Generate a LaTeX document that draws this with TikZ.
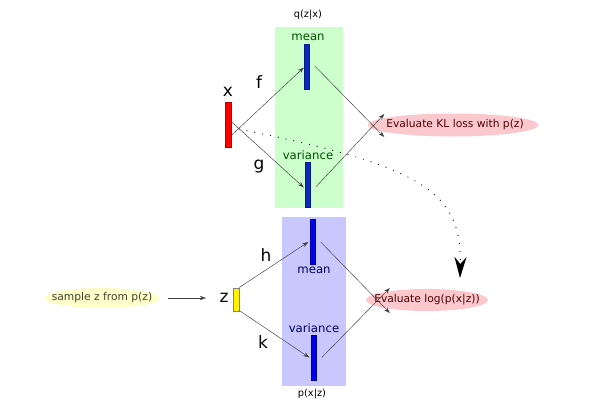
\documentclass[tikz,border=0pt]{standalone}
\usepackage{fontspec}
\setmainfont{DejaVu Sans}
\usetikzlibrary{arrows.meta,shapes.geometric}
\definecolor{qgreen}{RGB}{204,255,204}
\definecolor{pblue}{RGB}{200,200,255}
\definecolor{pinkfill}{RGB}{250,200,205}
\definecolor{yellowfill}{RGB}{255,255,204}
\definecolor{darkbar}{RGB}{10,40,190}
\definecolor{brightbar}{RGB}{0,0,235}
\definecolor{greentext}{RGB}{0,80,0}
\definecolor{bluetext}{RGB}{0,0,90}
\definecolor{redtext}{RGB}{80,0,0}
\definecolor{linecol}{RGB}{60,60,60}
\tikzset{
  bar/.style={draw=#1!70!black, fill=#1, line width=0.4pt, minimum width=5pt, minimum height=45pt, inner sep=0pt},
  arr/.style={draw=linecol, line width=0.45pt, -{Stealth[length=6pt,width=4pt]}},
  ell/.style={ellipse, fill=#1, inner sep=0pt},
  elltext/.style={font=\fontsize{10.7}{13}\selectfont, inner sep=0pt},
  small/.style={font=\fontsize{11.7}{13}\selectfont},
  tiny/.style={font=\fontsize{9.8}{11}\selectfont},
  big/.style={font=\fontsize{17}{19}\selectfont},
}
\begin{document}
\begin{tikzpicture}[x=1pt,y=-1pt]
\useasboundingbox (0,0) rectangle (616,413);
% panels
\node[fill=qgreen, minimum width=68pt, minimum height=181pt, inner sep=0pt] (qpanel) at (309,117.5) {};
\node[fill=pblue, minimum width=64pt, minimum height=169pt, inner sep=0pt] (ppanel) at (314,301.5) {};
\node[tiny] (qlab) at (308,15) {q(z|x)};
\node[tiny] (plab) at (312,394) {p(x|z)};
% bars
\node[bar=darkbar] (qmean) at (306.5,66.5) {};
\node[bar=darkbar] (qvar) at (307.5,184.5) {};
\node[bar=red, minimum width=6pt] (xbar) at (228,124.5) {};
\node[bar=brightbar] (pmean) at (313,242) {};
\node[bar=brightbar] (pvar) at (314,357.5) {};
\node[bar=yellow, minimum width=6pt, minimum height=23pt, draw=gray] (zbar) at (236,299.5) {};
% texts
\node[small, text=greentext] (qmeant) at (308,37) {mean};
\node[small, text=greentext] (qvart) at (308,155) {variance};
\node[small, text=bluetext] (pmeant) at (314,270) {mean};
\node[small, text=bluetext] (pvart) at (314,328) {variance};
\node[big] (xl) at (228,92) {x};
\node[big] (fl) at (259,82) {f};
\node[big] (gl) at (259,167) {g};
\node[big] (zl) at (224,298) {z};
\node[big] (hl) at (266,255) {h};
\node[big] (kl) at (263,342) {k};
% ellipses
\node[ell=pinkfill, minimum width=171pt, minimum height=23pt] (kll) at (453,125) {};
\node[elltext, text=redtext] (kllt) at (455,125) {Evaluate KL loss with p(z)};
\node[ell=pinkfill, minimum width=122pt, minimum height=22pt] (logp) at (427,300) {};
\node[elltext, text=redtext] (logpt) at (logp) {Evaluate log(p(x|z))};
\node[ell=yellowfill, minimum width=116pt, minimum height=20pt] (samp) at (102,298) {};
\node[elltext, text=black!70!olive] (sampt) at (samp) {sample z from p(z)};
% arrows
\draw[arr] ([yshift=-11pt]xbar.east) -- ([yshift=-1pt]qmean.west);
\draw[arr] ([yshift=3pt]xbar.east) -- ([xshift=-1pt,yshift=-3pt]qvar.west);
\draw[arr] ([xshift=6pt]qmean.east) -- ([xshift=17pt,yshift=-12pt]kll.west);
\draw[arr] ([xshift=6pt,yshift=-2pt]qvar.east) -- ([xshift=17pt,yshift=11pt]kll.west);
\draw[arr] ([yshift=12pt]zbar.east) -- ([xshift=-2pt]pmean.west);
\draw[arr] ([yshift=-11pt]zbar.east) -- ([xshift=-2pt]pvar.west);
\draw[arr] ([xshift=5pt]pmean.east) -- ([xshift=24pt,yshift=-13pt]logp.west);
\draw[arr] ([xshift=5pt]pvar.east) -- ([xshift=24pt,yshift=12pt]logp.west);
\draw[arr] ([xshift=8pt]samp.east) -- ([xshift=-10pt]zl.west);
% dotted
\draw[line width=1.2pt, line cap=round, dash pattern=on 0pt off 8pt, -{Stealth[length=21pt,width=12pt,inset=7pt]}] ([yshift=-3pt]xbar.east) .. controls (420,165) and (462,190) .. (460,278);
\end{tikzpicture}
\end{document}
